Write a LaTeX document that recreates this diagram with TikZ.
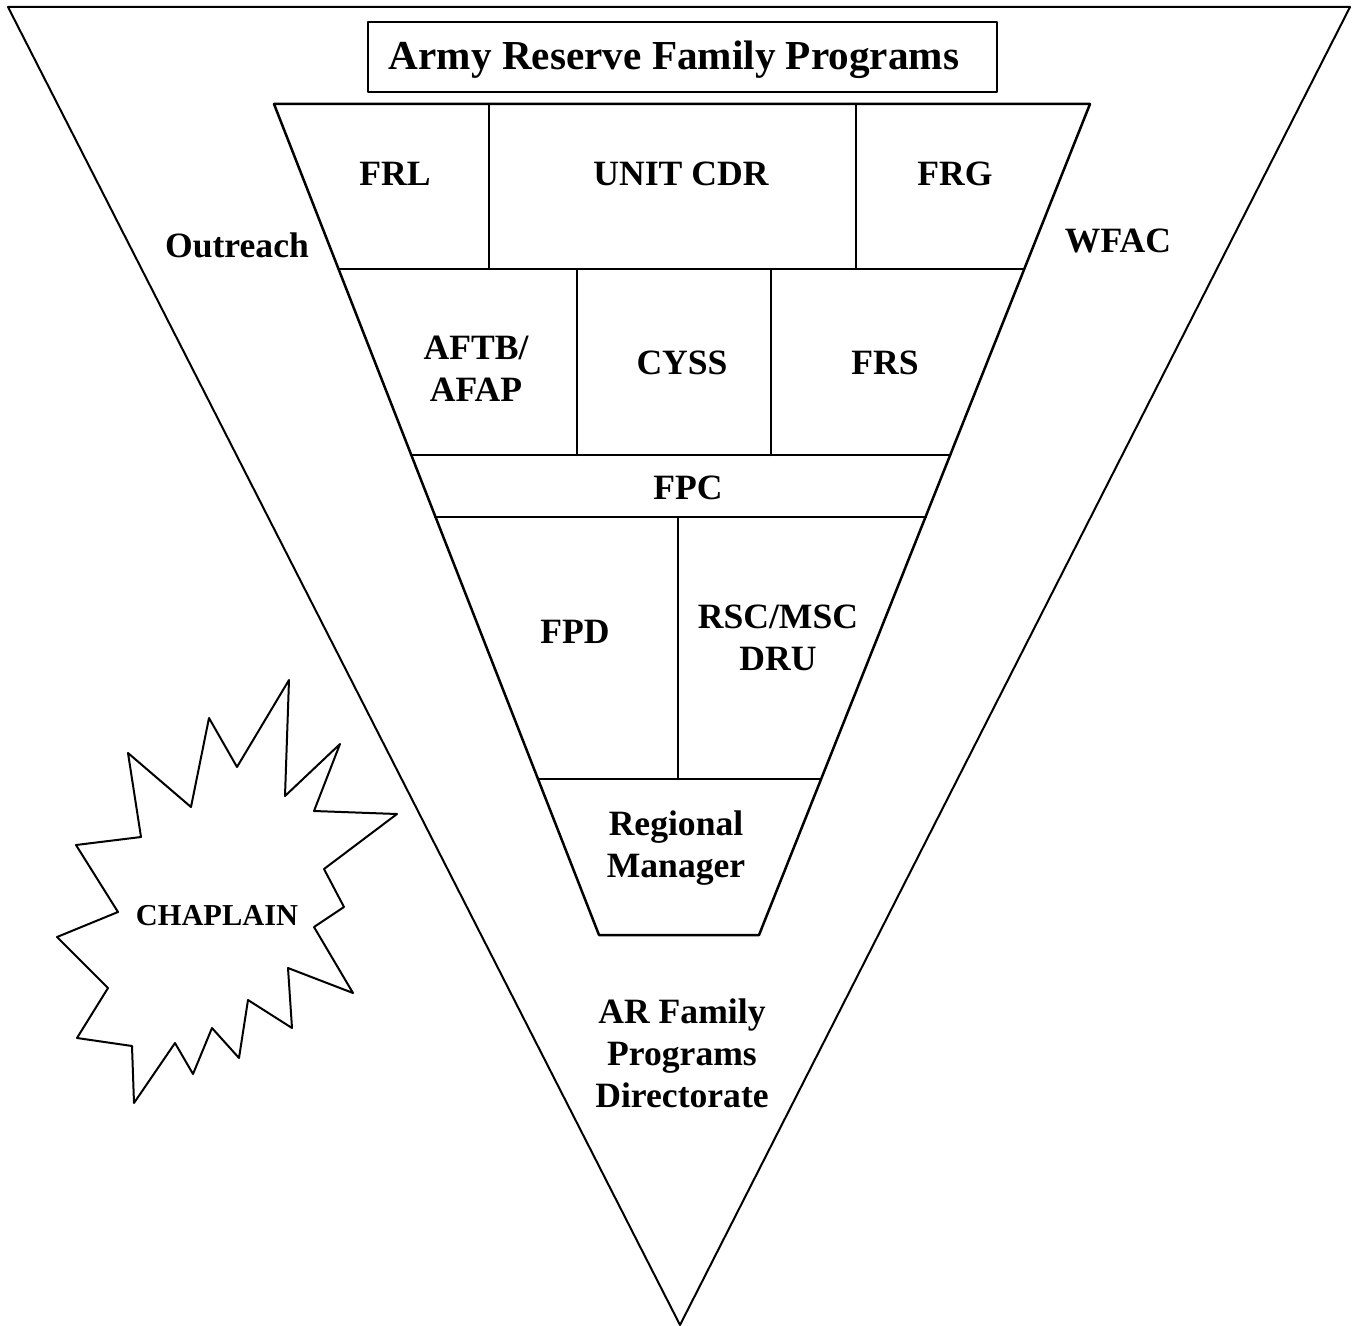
\documentclass[tikz,border=0pt]{standalone}
\usepackage{fontspec}
\setmainfont{Liberation Serif}
\usepackage{tikz}
\usetikzlibrary{positioning}

\begin{document}
\begin{tikzpicture}[line cap=round,line join=round,x=0.5pt,y=-0.5pt,
  lbl/.style={font=\bfseries\fontsize{17.8}{21}\selectfont,align=center,inner sep=0pt,anchor=base},
  ttl/.style={lbl,font=\bfseries\fontsize{20.6}{24}\selectfont},
  chap/.style={lbl,font=\bfseries\fontsize{15.2}{18}\selectfont},
  outline/.style={line width=1pt},
  frame/.style={line width=1.25pt}]
\useasboundingbox (0,0) rectangle (1353,1326);
\draw [outline] (8,7) -- (1350,7) -- (680,1325) -- cycle;
\draw [outline] (368,22) rectangle (997,92);
\draw [frame] (274,104) -- (1090,104) -- (759,935) -- (599,935) -- cycle;
\draw [frame] (339,269) -- (1024,269);
\draw [frame] (411,455) -- (950,455);
\draw [frame] (435,517) -- (926,517);
\draw [frame] (538,779) -- (821,779);
\draw [frame] (489,104) -- (489,269);
\draw [frame] (856,104) -- (856,269);
\draw [frame] (577,269) -- (577,455);
\draw [frame] (771,269) -- (771,455);
\draw [frame] (678,517) -- (678,779);
\draw [outline,fill=white] (289,680) -- (285,796) -- (340,744) -- (314,811) -- (397,814)
  -- (324,869) -- (344,907) -- (314,927) -- (353,993) -- (288,968) -- (292,1028)
  -- (248,1000) -- (239,1058) -- (212,1028) -- (193,1074) -- (175,1043) -- (134,1103)
  -- (132,1046) -- (77,1038) -- (108,988) -- (57,937) -- (118,912) -- (76,845)
  -- (141,837) -- (128,753) -- (191,807) -- (209,718) -- (237,767) -- cycle;
\node [ttl] (title) at (674,70) {Army Reserve Family Programs};
\node [lbl] (frl) at (395,186) {FRL};
\node [lbl] (cdr) at (681,186) {UNIT CDR};
\node [lbl] (frg) at (955,186) {FRG};
\node [lbl] (outreach) at (237,258) {Outreach};
\node [lbl] (wfac) at (1118,253) {WFAC};
\node [lbl] (aftb) at (476,401) {AFTB/\\AFAP};
\node [lbl] (cyss) at (682,374) {CYSS};
\node [lbl] (frs) at (885,374) {FRS};
\node [lbl] (fpc) at (688,499) {FPC};
\node [lbl] (fpd) at (575,643) {FPD};
\node [lbl] (rsc) at (778,670) {RSC/MSC\\DRU};
\node [lbl] (rm) at (676,877) {Regional\\Manager};
\node [chap] (chaplain) at (217,925) {CHAPLAIN};
\node [lbl] (arfp) at (682,1107) {AR Family\\Programs\\Directorate};
\end{tikzpicture}
\end{document}
